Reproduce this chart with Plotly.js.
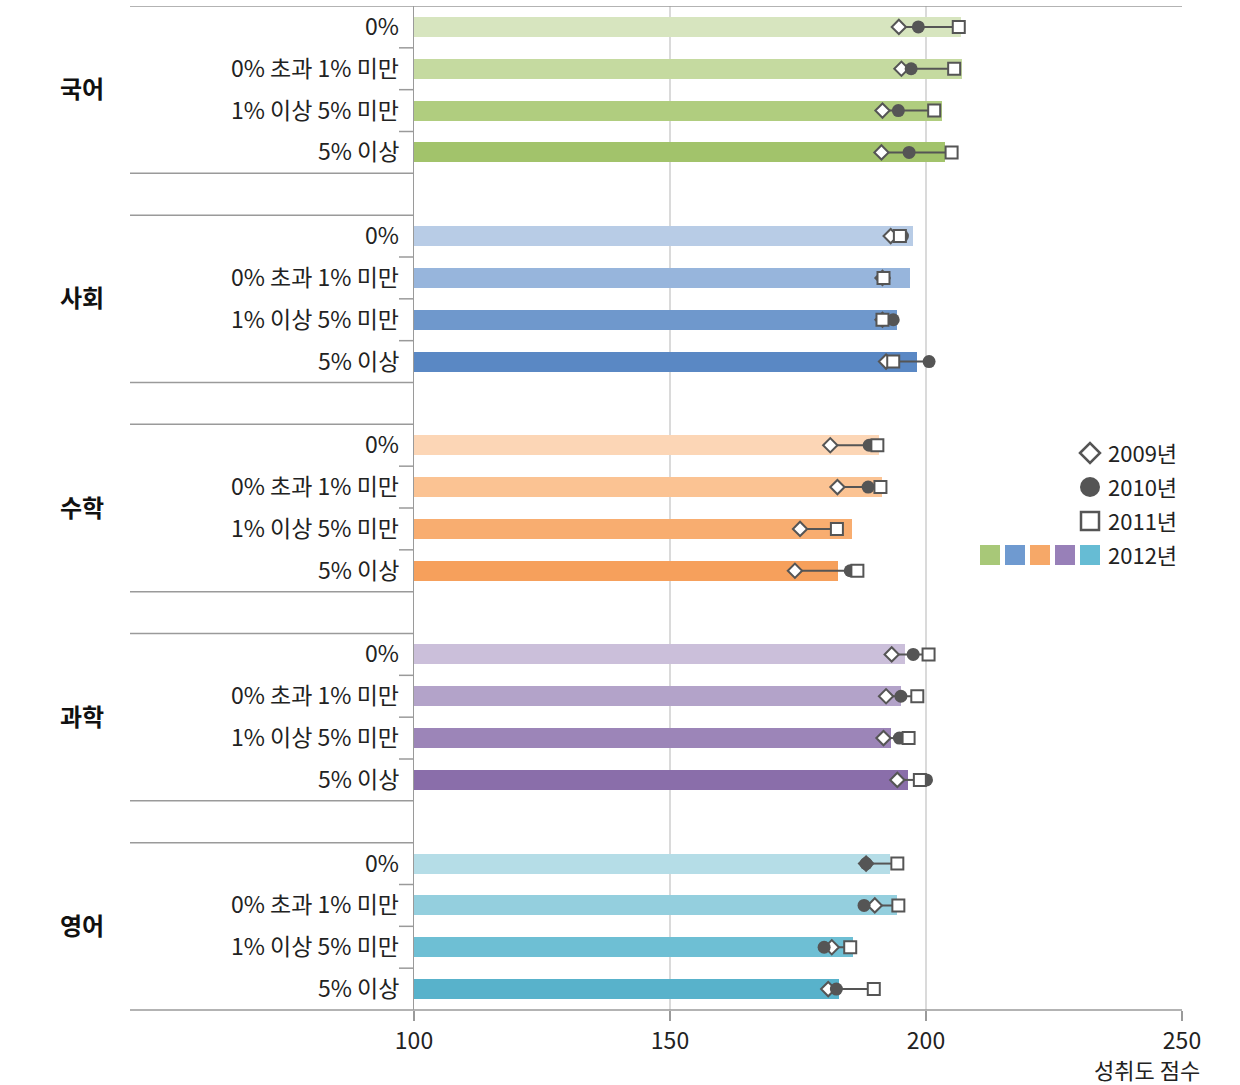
<!DOCTYPE html>
<html><head><meta charset="utf-8">
<script src="https://cdn.plot.ly/plotly-3.0.1.min.js"></script>
<style>html,body{margin:0;padding:0;background:#fff}#chart{width:1240px;height:1085px}</style>
</head><body><div id="chart"></div>
<script>
const subjects = ['국어','사회','수학','과학','영어'];
const levels = ['0%','0% 초과 1% 미만','1% 이상 5% 미만','5% 이상'];
const y2009 = [
  [194.7,195.2,191.5,191.3],
  [193.1,191.5,191.5,192.2],
  [181.3,182.7,175.4,174.4],
  [193.3,192.2,191.7,194.4],
  [188.3,190.0,181.6,180.9]];
const y2010 = [
  [198.5,197.1,194.6,196.7],
  [195.4,191.8,193.6,200.6],
  [188.9,188.7,182.5,185.2],
  [197.5,195.1,194.8,200.1],
  [188.3,187.9,180.1,182.5]];
const y2011 = [
  [206.4,205.5,201.6,205.0],
  [194.9,191.7,191.5,193.6],
  [190.5,191.1,182.6,186.6],
  [200.5,198.3,196.6,198.8],
  [194.4,194.6,185.2,189.8]];
const y2012 = [
  [206.9,207.0,203.1,203.7],
  [197.5,196.9,194.4,198.3],
  [190.9,191.5,185.5,182.9],
  [195.8,195.1,193.1,196.4],
  [193.0,194.3,185.8,183.1]];
const barColors = [
  ['#d7e5bf','#c5daa0','#b0cd7f','#a2c36b'],
  ['#b8cce6','#97b5dc','#6f98cc','#5a88c4'],
  ['#fcd6b6','#fbc393','#f8ad70','#f6a05c'],
  ['#cbbfda','#b3a3c9','#9c85b8','#8a6eaa'],
  ['#b5dde7','#94cfde','#6ebfd4','#58b2cb']];
const legendColors = ['#a8c878','#6f9ad0','#f6a868','#9880b8','#66bcd4'];
const legendYears = ['2009년','2010년','2011년','2012년'];
const xTicks = [100,150,200,250];
const gridVals = [150,200];
const axisTitle = '성취도 점수';

const FONT = '"Noto Sans CJK KR", "Noto Sans", sans-serif';
const GREY = '#555555';
const LINEC = '#9a9a9a';

const slot = (g,i) => g*5 + i;
const ys=[], b=[], bc=[], d09=[], d10=[], d11=[], lx=[], ly=[];
subjects.forEach((s,g)=>{
  levels.forEach((l,i)=>{
    const y = slot(g,i);
    ys.push(y); b.push(y2012[g][i]); bc.push(barColors[g][i]);
    d09.push(y2009[g][i]); d10.push(y2010[g][i]); d11.push(y2011[g][i]);
    const vals=[y2009[g][i],y2010[g][i],y2011[g][i]];
    lx.push(Math.min(...vals), Math.max(...vals), null);
    ly.push(y, y, null);
  });
});

const traces = [
  {type:'bar', orientation:'h', x:b, y:ys, width:0.48, marker:{color:bc, line:{width:0}}, hoverinfo:'x'},
  {type:'scatter', mode:'lines', x:lx, y:ly, line:{color:GREY, width:2}, hoverinfo:'skip'},
  {type:'scatter', mode:'markers', x:d09, y:ys, marker:{symbol:'diamond', size:11, color:'#ffffff', line:{color:GREY, width:2}}},
  {type:'scatter', mode:'markers', x:d10, y:ys, marker:{symbol:'circle', size:13, color:GREY, line:{width:0}}},
  {type:'scatter', mode:'markers', x:d11, y:ys, marker:{symbol:'square', size:12, color:'#ffffff', line:{color:GREY, width:2}}}
];

const L = 414, R = 1182, T = 6, B = 1010;
const px = v => (v - L)/(R - L);
const py = v => 1 - (v - T)/(B - T);

const shapes = [];
const annotations = [];
gridVals.forEach(v=>shapes.push({type:'line', xref:'x', yref:'paper', x0:v, x1:v, y0:0, y1:1, line:{color:'#b5b5b5', width:1}, layer:'below'}));
const leftX = px(130);
subjects.forEach((s,g)=>{
  const top = slot(g,0)-0.5, bot = slot(g,3)+0.5;
  shapes.push({type:'line', xref:'paper', yref:'y', x0:leftX, x1:(g===0?1:0), y0:top, y1:top, line:{color:LINEC, width:1.5}});
  if (g < subjects.length-1) shapes.push({type:'line', xref:'paper', yref:'y', x0:leftX, x1:0, y0:bot, y1:bot, line:{color:LINEC, width:1.5}});
  for (let i=0;i<levels.length-1;i++){
    const yy = slot(g,i)+0.5;
    shapes.push({type:'line', xref:'paper', yref:'y', x0:px(399), x1:0, y0:yy, y1:yy, line:{color:LINEC, width:1.5}});
  }
  annotations.push({xref:'paper', yref:'y', x:px(82), y:slot(g,1.5), yshift:2, text:s, showarrow:false, xanchor:'center', yanchor:'middle', font:{family:FONT, size:24, color:'#111', weight:'bold'}});
  levels.forEach((l,i)=>{
    annotations.push({xref:'paper', yref:'y', x:px(401), y:slot(g,i), yshift:2, text:l, showarrow:false, xanchor:'right', yanchor:'middle', font:{family:FONT, size:23, color:'#222'}});
  });
});
shapes.push({type:'line', xref:'paper', yref:'paper', x0:leftX, x1:1, y0:0, y1:0, line:{color:LINEC, width:1.5}});
annotations.push({xref:'paper', yref:'paper', x:px(1202), y:py(1069), text:axisTitle, showarrow:false, xanchor:'right', yanchor:'middle', font:{family:FONT, size:22, color:'#222'}});

const lgX = 1090, lgY = [453,487,521,555];
const dx = v => px(v), dy = v => py(v);
shapes.push({type:'path', xref:'paper', yref:'paper', path:`M ${dx(lgX-10)},${dy(lgY[0])} L ${dx(lgX)},${dy(lgY[0]-10)} L ${dx(lgX+10)},${dy(lgY[0])} L ${dx(lgX)},${dy(lgY[0]+10)} Z`, fillcolor:'#fff', line:{color:GREY, width:2.5}});
shapes.push({type:'circle', xref:'paper', yref:'paper', x0:dx(lgX-10), x1:dx(lgX+10), y0:dy(lgY[1]-10), y1:dy(lgY[1]+10), fillcolor:GREY, line:{width:0}});
shapes.push({type:'rect', xref:'paper', yref:'paper', x0:dx(lgX-9), x1:dx(lgX+9), y0:dy(lgY[2]-9), y1:dy(lgY[2]+9), fillcolor:'#fff', line:{color:GREY, width:2.5}});
legendColors.forEach((c,k)=>{
  const cx = 990 + k*25;
  shapes.push({type:'rect', xref:'paper', yref:'paper', x0:dx(cx-10), x1:dx(cx+10), y0:dy(lgY[3]-10), y1:dy(lgY[3]+10), fillcolor:c, line:{width:0}});
});
legendYears.forEach((t,k)=>{
  annotations.push({xref:'paper', yref:'paper', x:dx(1106), y:dy(lgY[k]), yshift:1, text:t, showarrow:false, xanchor:'left', yanchor:'middle', font:{family:FONT, size:22, color:'#222'}});
});

const layout = {
  width:1240, height:1085,
  margin:{l:L, r:1240-R, t:T, b:1085-B, pad:0},
  paper_bgcolor:'#fff', plot_bgcolor:'#fff',
  showlegend:false,
  bargap:0,
  xaxis:{range:[100,250], tickvals:xTicks, ticktext:xTicks.map(String), showgrid:false, zeroline:false, showline:false,
         ticks:'outside', ticklen:10, tickwidth:1.5, tickcolor:LINEC, tickfont:{family:FONT, size:23, color:'#222'}, fixedrange:true},
  yaxis:{range:[23.5,-0.5], showticklabels:false, ticks:'', showgrid:false, zeroline:false, showline:true, linecolor:LINEC, linewidth:1.5, fixedrange:true},
  shapes, annotations,
  font:{family:FONT}
};
Plotly.newPlot('chart', traces, layout, {displayModeBar:false, staticPlot:true});
</script></body></html>
